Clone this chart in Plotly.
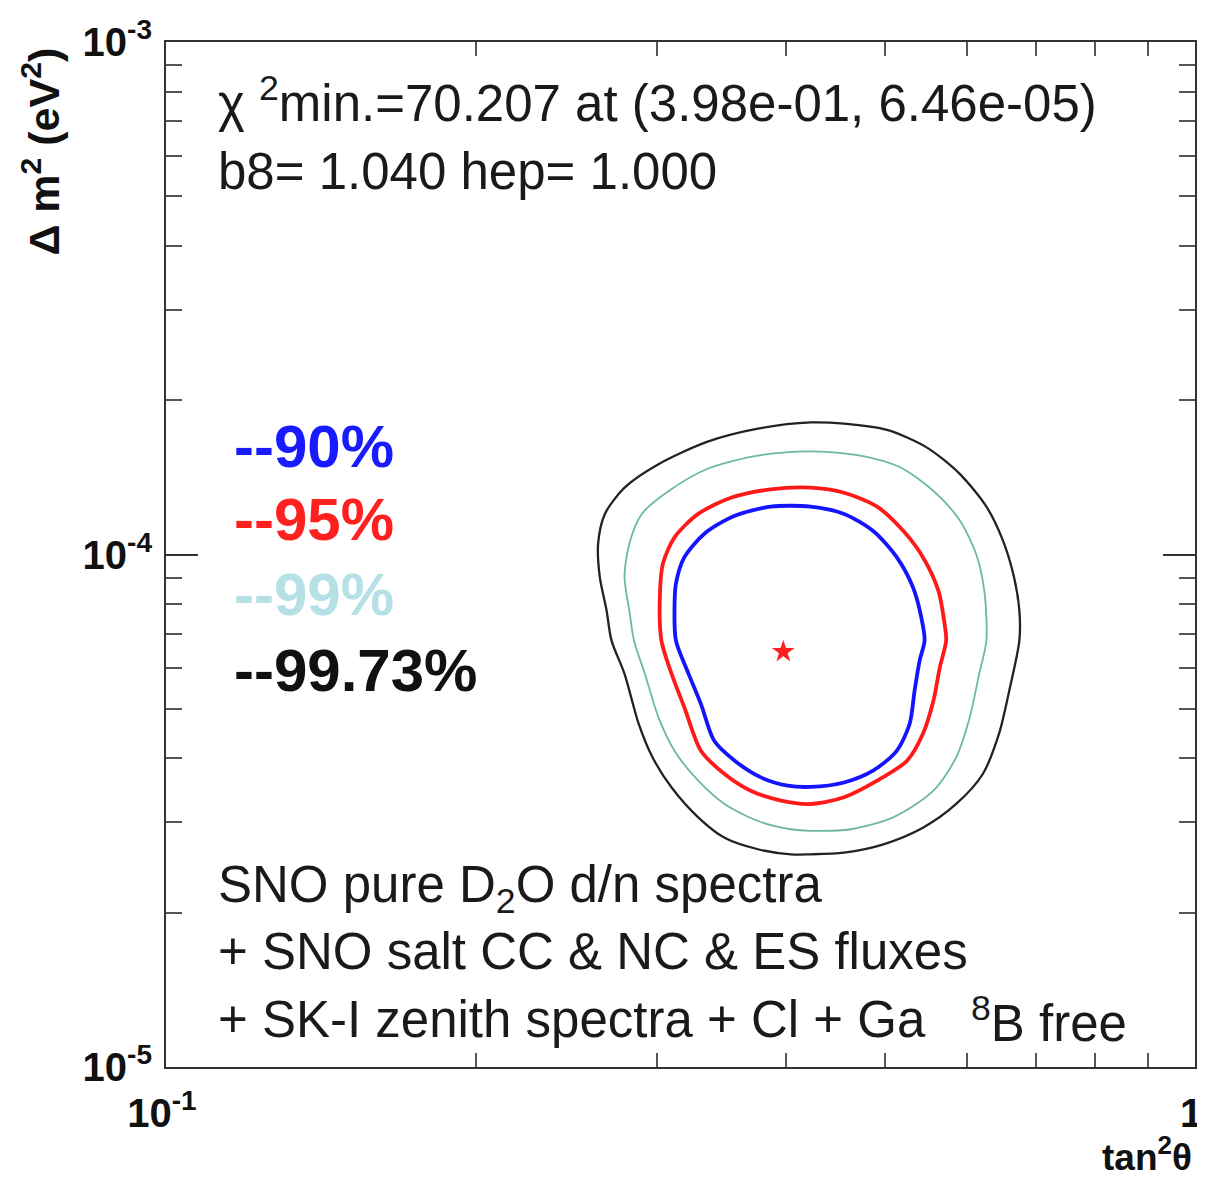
import plotly.graph_objects as go

# ---- data ----
# 90% C.L. contour
c90_tan2 = [0.423, 0.456, 0.487, 0.513, 0.532, 0.542, 0.546, 0.540, 0.534, 0.528, 0.513, 0.487, 0.456,
            0.423, 0.402, 0.379, 0.357, 0.341, 0.331, 0.322, 0.313, 0.312, 0.313, 0.319, 0.334, 0.357, 0.387]
c90_dm2 = [1.24e-4, 1.20e-4, 1.11e-4, 9.88e-5, 8.63e-5, 7.54e-5, 6.79e-5, 6.21e-5, 5.43e-5, 4.67e-5, 4.14e-5,
           3.79e-5, 3.59e-5, 3.52e-5, 3.54e-5, 3.67e-5, 3.96e-5, 4.33e-5, 5.11e-5, 5.85e-5, 6.79e-5, 7.78e-5,
           8.77e-5, 9.88e-5, 1.10e-4, 1.19e-4, 1.24e-4]
# 95% C.L. contour
c95_tan2 = [0.423, 0.456, 0.491, 0.521, 0.544, 0.563, 0.571, 0.573, 0.565, 0.557, 0.544, 0.525, 0.491, 0.456,
            0.423, 0.396, 0.370, 0.349, 0.331, 0.319, 0.310, 0.303, 0.302, 0.304, 0.312, 0.329, 0.354, 0.387]
c95_dm2 = [1.35e-4, 1.32e-4, 1.24e-4, 1.11e-4, 9.88e-5, 8.51e-5, 7.32e-5, 6.79e-5, 6.03e-5, 5.19e-5, 4.47e-5,
           3.96e-5, 3.62e-5, 3.36e-5, 3.26e-5, 3.31e-5, 3.46e-5, 3.73e-5, 4.14e-5, 5.03e-5, 5.85e-5, 6.79e-5,
           8.38e-5, 9.59e-5, 1.08e-4, 1.20e-4, 1.29e-4, 1.34e-4]
# 99% C.L. contour
c99_tan2 = [0.423, 0.473, 0.517, 0.557, 0.590, 0.613, 0.624, 0.627, 0.617, 0.604, 0.586, 0.557, 0.509, 0.463,
            0.423, 0.405, 0.376, 0.349, 0.329, 0.312, 0.301, 0.292, 0.285, 0.282, 0.279, 0.282, 0.290, 0.308,
            0.336, 0.376]
c99_dm2 = [1.59e-4, 1.56e-4, 1.48e-4, 1.33e-4, 1.17e-4, 1.00e-4, 8.51e-5, 6.79e-5, 5.85e-5, 4.81e-5, 4.02e-5,
           3.46e-5, 3.07e-5, 2.91e-5, 2.89e-5, 2.91e-5, 3.02e-5, 3.26e-5, 3.62e-5, 4.14e-5, 4.81e-5, 5.85e-5,
           6.79e-5, 7.78e-5, 9.03e-5, 1.05e-4, 1.20e-4, 1.33e-4, 1.47e-4, 1.56e-4]
# 99.73% C.L. contour
c9973_tan2 = [0.423, 0.456, 0.502, 0.548, 0.590, 0.627, 0.650, 0.667, 0.675, 0.675, 0.660, 0.645, 0.622, 0.586,
              0.544, 0.498, 0.456, 0.423, 0.405, 0.376, 0.349, 0.329, 0.310, 0.297, 0.288, 0.279, 0.271, 0.268,
              0.264, 0.263, 0.267, 0.279, 0.301, 0.336, 0.376]
c9973_dm2 = [1.81e-4, 1.80e-4, 1.75e-4, 1.62e-4, 1.44e-4, 1.24e-4, 1.07e-4, 9.03e-5, 7.78e-5, 6.79e-5, 5.43e-5,
             4.47e-5, 3.73e-5, 3.26e-5, 2.93e-5, 2.72e-5, 2.62e-5, 2.60e-5, 2.60e-5, 2.66e-5, 2.80e-5, 3.07e-5,
             3.51e-5, 4.02e-5, 4.67e-5, 5.85e-5, 6.79e-5, 7.78e-5, 9.03e-5, 1.05e-4, 1.20e-4, 1.35e-4, 1.50e-4,
             1.66e-4, 1.76e-4]
# best fit point
best_tan2 = [0.398]
best_dm2 = [6.46e-5]

x_major = [0.1, 1.0]
x_major_text = ["10<sup>-1</sup>", "1"]
y_major = [1e-5, 1e-4, 1e-3]
y_major_text = ["10<sup>-5</sup>", "10<sup>-4</sup>", "10<sup>-3</sup>"]
x_minor = [m * 0.1 for m in range(2, 10)]
y_minor = [m * d for d in (1e-5, 1e-4) for m in range(2, 10)]

cl_labels = ["--90%", "--95%", "--99%", "--99.73%"]
cl_label_colors = ["#1a1aff", "#ff2020", "#b4e0e6", "#111111"]

# ---- figure ----
fig = go.Figure()

def closed(a):
    return list(a) + [a[0]]

contours = [
    (c9973_tan2, c9973_dm2, "#222222", 2.3),
    (c99_tan2, c99_dm2, "#6db8a4", 1.8),
    (c95_tan2, c95_dm2, "#ff1a1a", 3.8),
    (c90_tan2, c90_dm2, "#1414ff", 3.8),
]
for xs, ys, col, w in contours:
    fig.add_trace(go.Scatter(x=closed(xs), y=closed(ys), mode="lines",
                             line=dict(color=col, width=w, shape="spline", smoothing=0.8),
                             hoverinfo="skip", showlegend=False))

fig.add_trace(go.Scatter(x=best_tan2, y=best_dm2, mode="markers",
                         marker=dict(symbol="star", size=17, color="#ff2020", line=dict(width=0)),
                         showlegend=False))

FONT = "Liberation Sans, Arial, Helvetica, sans-serif"

# the page body has an 8px margin; size/margins compensate so the frame sits where the reference has it
fig.update_layout(
    width=1197, height=1172,
    margin=dict(l=158, r=3, t=34, b=113),
    paper_bgcolor="white", plot_bgcolor="white",
    font=dict(family=FONT, color="#111111"),
    xaxis=dict(type="log", range=[-1, 0], showgrid=False, zeroline=False,
               showline=True, linecolor="#333333", linewidth=2, mirror="ticks",
               ticks="inside", ticklen=30, tickwidth=2, tickcolor="#333333",
               tickvals=x_major, ticktext=x_major_text, ticklabelstandoff=10,
               ticklabelshift=-4, ticklabeloverflow="allow",
               tickfont=dict(size=40, family="Liberation Sans, Arial", color="#111111", weight="bold"),
               minor=dict(ticks="inside", ticklen=14, tickwidth=1.5, tickcolor="#555555",
                          tickvals=x_minor, showgrid=False)),
    yaxis=dict(type="log", range=[-5, -3], showgrid=False, zeroline=False,
               showline=True, linecolor="#333333", linewidth=2, mirror="ticks",
               ticks="inside", ticklen=32, tickwidth=2, tickcolor="#333333",
               tickvals=y_major, ticktext=y_major_text, ticklabelstandoff=4,
               ticklabeloverflow="allow",
               tickfont=dict(size=40, family="Liberation Sans, Arial", color="#111111", weight="bold"),
               minor=dict(ticks="inside", ticklen=16, tickwidth=1.5, tickcolor="#555555",
                          tickvals=y_minor, showgrid=False)),
)

TXT = 51
annotations = []
# header text
annotations.append(dict(x=0.049, y=0.9434, text="χ <sup>2</sup>min.=70.207 at (3.98e-01, 6.46e-05)",
                        font=dict(size=TXT, color="#1a1a1a")))
annotations.append(dict(x=0.049, y=0.8732, text="b8= 1.040 hep= 1.000",
                        font=dict(size=TXT, color="#1a1a1a")))
# C.L. labels
for lbl, col, yy in zip(cl_labels, cl_label_colors, [0.6049, 0.5337, 0.4605, 0.3873]):
    annotations.append(dict(x=0.064, y=yy, text=lbl,
                            font=dict(size=60, color=col, weight="bold")))
# bottom description
annotations.append(dict(x=0.049, y=0.1746, text="SNO pure D<sub>2</sub>O d/n spectra",
                        font=dict(size=TXT, color="#1a1a1a")))
annotations.append(dict(x=0.049, y=0.1122, text="+ SNO salt CC &amp; NC &amp; ES fluxes",
                        font=dict(size=TXT, color="#1a1a1a")))
annotations.append(dict(x=0.049, y=0.0459, text="+ SK-I zenith spectra + Cl + Ga",
                        font=dict(size=TXT, color="#1a1a1a")))
annotations.append(dict(x=0.780, y=0.0459, text="<sup>8</sup>B free",
                        font=dict(size=TXT, color="#1a1a1a")))
for a in annotations:
    a.update(xref="paper", yref="paper", xanchor="left", yanchor="middle", showarrow=False)

# axis titles
annotations.append(dict(xref="paper", yref="paper", x=-0.121, y=0.997, xanchor="center", yanchor="top",
                        textangle=-90, showarrow=False, text="Δ m<sup>2</sup> (eV<sup>2</sup>)",
                        font=dict(size=43, color="#111111", weight="bold")))
annotations.append(dict(xref="paper", yref="paper", x=0.999, y=-0.085, xanchor="right", yanchor="middle",
                        showarrow=False, text="tan<sup>2</sup>θ",
                        font=dict(size=37, color="#111111", weight="bold")))

fig.update_layout(annotations=annotations)

fig.write_html("out.html")
